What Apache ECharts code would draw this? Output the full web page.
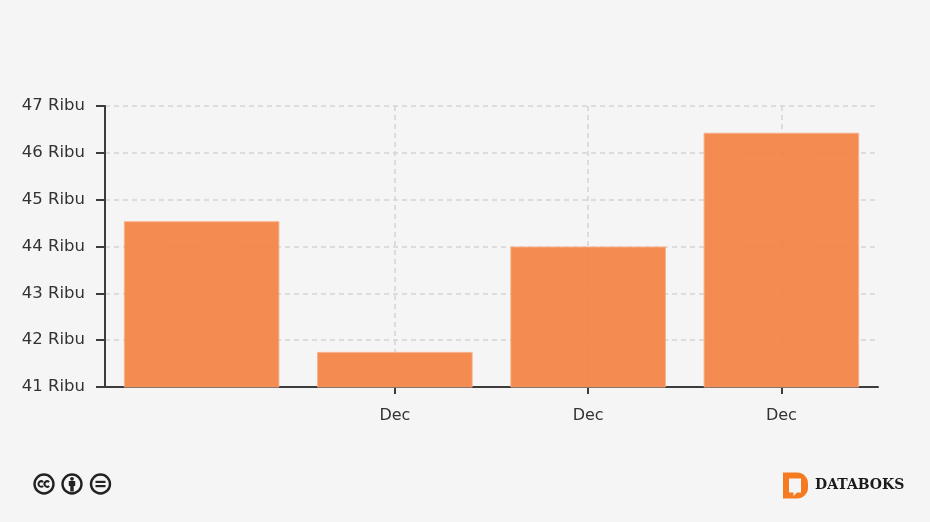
<!DOCTYPE html>
<html><head><meta charset="utf-8">
<script src="https://cdn.jsdelivr.net/npm/echarts@6/dist/echarts.min.js"></script>
<style>html,body{margin:0;padding:0;background:#f5f5f5}#c{width:930px;height:522px}</style>
</head><body><div id="c"></div>
<script>
const categories = ['', 'Dec', 'Dec', 'Dec'];
const values = [44.54, 41.75, 44.0, 46.43];
const yMin = 41, yMax = 47, yStep = 1;
const unitSuffix = ' Ribu';
const brand = 'DATABOKS';

const font = '"DejaVu Sans", Verdana, sans-serif';
const ink = '#333';
const iconInk = '#222';
const chart = echarts.init(document.getElementById('c'), null, {renderer: 'canvas'});
const skipFirst = (i) => i > 0;

function cc(cx, children) {
  return {type: 'group', x: cx, y: 484, children: [
    {type: 'circle', shape: {cx: 0, cy: 0, r: 9.5}, style: {fill: '#f5f5f5', stroke: iconInk, lineWidth: 2.4}}
  ].concat(children)};
}
const graphics = [
  cc(44, [
    {type: 'arc', shape: {cx: -2.8, cy: 0, r: 2.7, startAngle: 0.8, endAngle: 5.5}, style: {fill: 'none', stroke: iconInk, lineWidth: 2}},
    {type: 'arc', shape: {cx: 3.2, cy: 0, r: 2.7, startAngle: 0.8, endAngle: 5.5}, style: {fill: 'none', stroke: iconInk, lineWidth: 2}}
  ]),
  cc(72, [
    {type: 'circle', shape: {cx: 0, cy: -5.2, r: 1.9}, style: {fill: iconInk}},
    {type: 'polygon', shape: {points: [[-3.2,-3],[3.2,-3],[3.2,2],[1.7,2],[1.7,7.5],[-1.7,7.5],[-1.7,2],[-3.2,2]]}, style: {fill: iconInk}}
  ]),
  cc(100.5, [
    {type: 'rect', shape: {x: -5, y: -3.2, width: 10, height: 2.2}, style: {fill: iconInk}},
    {type: 'rect', shape: {x: -5, y: 1, width: 10, height: 2.2}, style: {fill: iconInk}}
  ]),
  {type: 'group', x: 783, y: 472.5, children: [
    {type: 'rect', shape: {x: 0, y: 0, width: 25, height: 26, r: [0, 11, 11, 0]}, style: {fill: '#F47B20'}},
    {type: 'polygon', shape: {points: [[6,6],[18,6],[18,20],[14,20],[10.5,23.5],[10.5,20],[6,20]]}, style: {fill: '#f5f5f5'}}
  ]},
  {type: 'text', x: 815, y: 478, style: {text: brand, fill: '#1a1a1a', font: 'bold 14px "DejaVu Serif", serif'}}
];

chart.setOption({
  animation: false,
  backgroundColor: '#f5f5f5',
  graphic: graphics,
  grid: {left: 105, right: 52, top: 106, bottom: 135, containLabel: false},
  xAxis: {
    type: 'category', data: categories, boundaryGap: true,
    axisLine: {show: true, onZero: false, lineStyle: {color: '#3c3c3c', width: 2}},
    axisTick: {show: true, alignWithLabel: true, interval: skipFirst, length: 7, lineStyle: {color: '#3c3c3c', width: 2}},
    axisLabel: {show: true, interval: 0, color: ink, fontFamily: font, fontSize: 16, margin: 21},
    splitLine: {show: true, alignWithLabel: true, interval: skipFirst, lineStyle: {color: '#d4d4d4', type: [5, 4], width: 1.5}}
  },
  yAxis: {
    type: 'value', min: yMin, max: yMax, interval: yStep,
    axisLine: {show: true, lineStyle: {color: '#3c3c3c', width: 2}},
    axisTick: {show: true, length: 9, lineStyle: {color: '#3c3c3c', width: 2}},
    axisLabel: {color: ink, fontFamily: font, fontSize: 16.5, margin: 20, padding: [2, 0, 0, 0], formatter: (v) => v + unitSuffix},
    splitLine: {show: true, lineStyle: {color: '#d4d4d4', type: [5, 4], width: 1.5}}
  },
  series: [{
    type: 'bar', data: values, barCategoryGap: '19.5%',
    itemStyle: {color: '#F4803E', opacity: 0.9, borderColor: '#F9B088', borderWidth: 1}
  }]
});
</script></body></html>
